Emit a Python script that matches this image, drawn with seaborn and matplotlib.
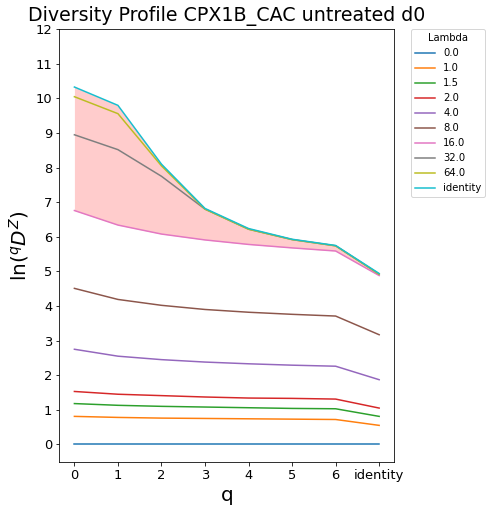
import numpy as np
import pandas as pd
import matplotlib
matplotlib.use("Agg")
import matplotlib.pyplot as plt
import seaborn as sns

# diversity profile values per lambda
q_labels = ["0", "1", "2", "3", "4", "5", "6", "identity"]
lambdas = ["0.0", "1.0", "1.5", "2.0", "4.0", "8.0", "16.0", "32.0", "64.0", "identity"]

lam_0 = [0, 0, 0, 0, 0, 0, 0, 0]
lam_1 = [0.81, 0.78, 0.76, 0.75, 0.74, 0.73, 0.72, 0.55]
lam_15 = [1.18, 1.13, 1.10, 1.08, 1.06, 1.04, 1.03, 0.81]
lam_2 = [1.53, 1.45, 1.41, 1.37, 1.34, 1.33, 1.31, 1.05]
lam_4 = [2.75, 2.55, 2.45, 2.38, 2.33, 2.29, 2.26, 1.87]
lam_8 = [4.51, 4.19, 4.02, 3.90, 3.82, 3.76, 3.71, 3.17]
lam_16 = [6.76, 6.34, 6.08, 5.91, 5.78, 5.68, 5.59, 4.88]
lam_32 = [8.95, 8.52, 7.75, 6.80, 6.22, 5.92, 5.74, 4.92]
lam_64 = [10.05, 9.56, 8.05, 6.80, 6.22, 5.92, 5.74, 4.92]
lam_id = [10.33, 9.80, 8.10, 6.82, 6.24, 5.93, 5.75, 4.94]

series = [lam_0, lam_1, lam_15, lam_2, lam_4, lam_8, lam_16, lam_32, lam_64, lam_id]

rows = []
for lam, vals in zip(lambdas, series):
    for i, v in enumerate(vals):
        rows.append({"q": i, "value": v, "Lambda": lam})
df = pd.DataFrame(rows)

plt.rcParams["font.family"] = ["DejaVu Sans"]

fig, ax = plt.subplots(figsize=(493 / 72, 513 / 72), dpi=72)
sns.lineplot(data=df, x="q", y="value", hue="Lambda", hue_order=lambdas,
             palette="tab10", ax=ax, linewidth=1.5)

xs = np.arange(len(q_labels))
ax.fill_between(xs, lam_16, lam_id, color="red", alpha=0.2, linewidth=0)

ax.set_xticks(xs)
ax.set_xticklabels(q_labels, fontsize=13)
ax.set_yticks(range(0, 13))
ax.tick_params(axis="y", labelsize=13)
ax.set_ylim(-0.5, 12)
ax.set_xlabel("q", fontsize=20)
ax.set_ylabel(r"ln($^qD^Z$)", fontsize=20)
ax.set_title("Diversity Profile CPX1B_CAC untreated d0", fontsize=19, pad=8)
ax.legend(title="Lambda", bbox_to_anchor=(1.05, 1.0), loc="upper left",
          borderaxespad=0, fontsize=10, title_fontsize=10)

fig.subplots_adjust(left=0.12, right=0.80, top=0.943, bottom=0.1)
fig.savefig("out.png", dpi=72)
